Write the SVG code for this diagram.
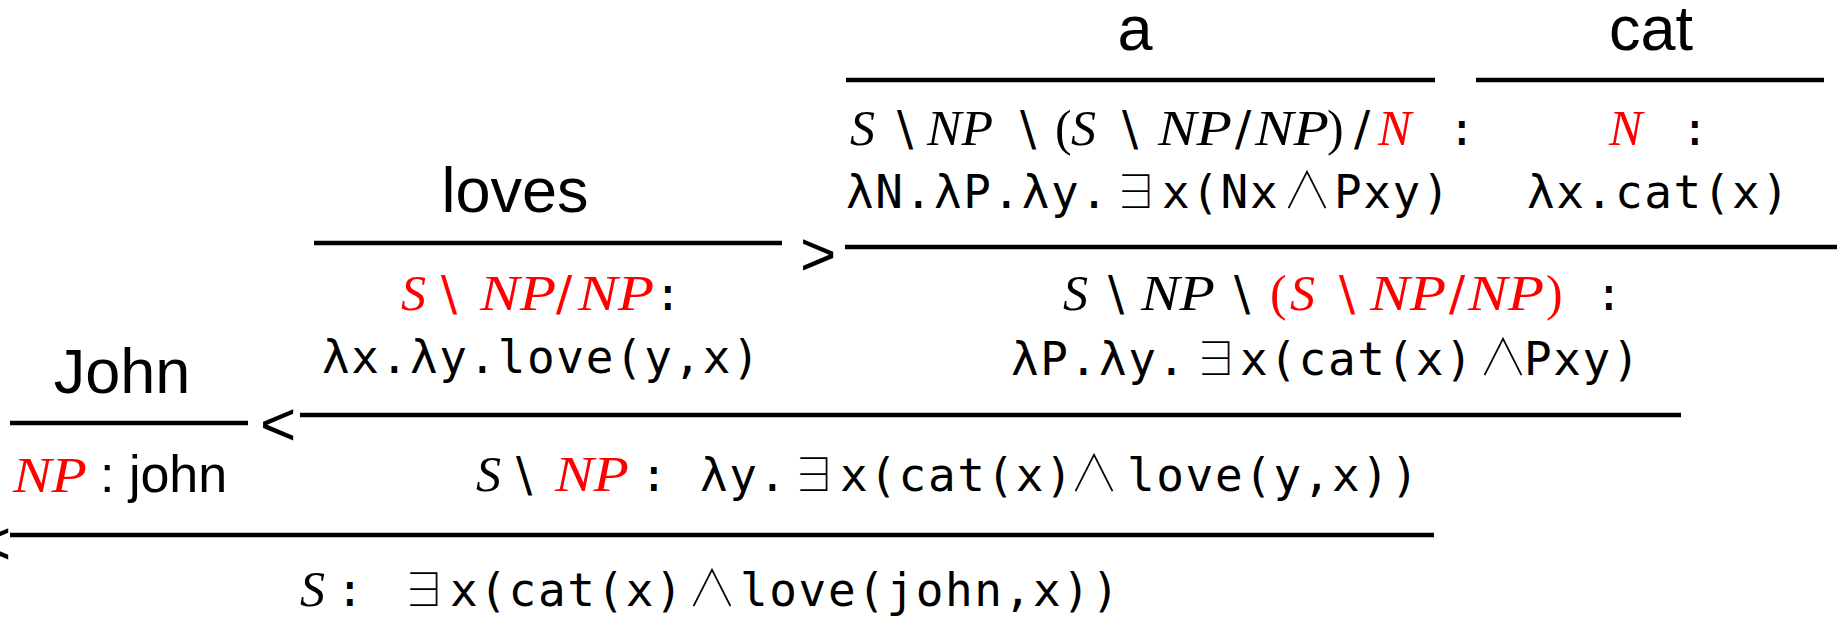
<svg xmlns="http://www.w3.org/2000/svg" width="1837" height="619" viewBox="0 0 1837 619">
<style>
.w{font-family:"Liberation Sans",Arial,sans-serif;font-size:63px;fill:#000}
.w2{font-family:"Liberation Sans",Arial,sans-serif;font-size:52px;fill:#000}
.m{font-family:"DejaVu Sans Mono",monospace;font-size:46px;letter-spacing:1.6px;fill:#000}
.i{font-family:"Liberation Serif",serif;font-style:italic;font-size:50px;fill:#000}
.b{font-family:"DejaVu Sans",sans-serif;font-size:48px;fill:#000}
.p{font-family:"Liberation Serif",serif;font-size:50px;fill:#000}
.q{font-family:"Noto Sans CJK JP","DejaVu Sans",sans-serif;font-weight:100;font-size:46px;letter-spacing:0;fill:#000}
.n{font-family:"Noto Sans CJK JP","DejaVu Sans",sans-serif;font-weight:100;font-size:50px;letter-spacing:0;fill:#000}
.r{fill:#ff0000}
.rule{stroke:#000;stroke-width:4.5}
.op{font-family:"Liberation Sans",Arial,sans-serif;font-size:62px;fill:#000}
</style>
<g id="node-a">
<text class="w" x="1135" y="50" text-anchor="middle">a</text>
<text class="i" x="850" y="145">S</text>
<text class="b" x="897" y="145">\</text>
<text class="i" x="927" y="145" textLength="66" lengthAdjust="spacingAndGlyphs">NP</text>
<text class="b" x="1020" y="145">\</text>
<text class="p" x="1055" y="145">(</text>
<text class="i" x="1071" y="145">S</text>
<text class="b" x="1122" y="145">\</text>
<text class="i" x="1158" y="145" textLength="74" lengthAdjust="spacingAndGlyphs">NP</text>
<text class="b" x="1235" y="145">/</text>
<text class="i" x="1255" y="145" textLength="74" lengthAdjust="spacingAndGlyphs">NP</text>
<text class="p" x="1327" y="145">)</text>
<text class="b" x="1354" y="145">/</text>
<text class="i r" x="1378" y="145">N</text>
<text class="m" x="1448" y="145">:</text>
<text class="m" y="208"><tspan x="846">λN.λP.λy.</tspan><tspan class="q" x="1113">∃</tspan><tspan x="1162">x(Nx</tspan><tspan class="n" x="1282">∧</tspan><tspan x="1334">Pxy)</tspan></text>
</g>
<g id="node-cat">
<text class="w" x="1651" y="50" text-anchor="middle">cat</text>
<text class="i r" x="1609" y="145">N</text>
<text class="m" x="1681" y="145">:</text>
<text class="m" x="1527" y="208">λx.cat(x)</text>
</g>
<g id="node-loves">
<text class="w" x="515" y="212" text-anchor="middle">loves</text>
<text class="i r" x="401" y="310">S</text>
<text class="b r" x="441" y="310">\</text>
<text class="i r" x="480" y="310" textLength="76" lengthAdjust="spacingAndGlyphs">NP</text>
<text class="b r" x="556" y="310">/</text>
<text class="i r" x="578" y="310" textLength="76" lengthAdjust="spacingAndGlyphs">NP</text>
<text class="m" x="654" y="310">:</text>
<text class="m" x="322" y="373">λx.λy.love(y,x)</text>
</g>
<g id="node-a-cat">
<text class="i" x="1063" y="310">S</text>
<text class="b" x="1108" y="310">\</text>
<text class="i" x="1141" y="310" textLength="74" lengthAdjust="spacingAndGlyphs">NP</text>
<text class="b" x="1234" y="310">\</text>
<text class="p r" x="1270" y="310">(</text>
<text class="i r" x="1290" y="310">S</text>
<text class="b r" x="1339" y="310">\</text>
<text class="i r" x="1370" y="310" textLength="76" lengthAdjust="spacingAndGlyphs">NP</text>
<text class="b r" x="1449" y="310">/</text>
<text class="i r" x="1468" y="310" textLength="76" lengthAdjust="spacingAndGlyphs">NP</text>
<text class="p r" x="1546" y="310">)</text>
<text class="m" x="1595" y="310">:</text>
<text class="m" y="375"><tspan x="1011">λP.λy.</tspan><tspan class="q" x="1193">∃</tspan><tspan x="1240">x(cat(x)</tspan><tspan class="n" x="1478">∧</tspan><tspan x="1524">Pxy)</tspan></text>
</g>
<g id="node-john">
<text class="w" x="122" y="393" text-anchor="middle">John</text>
<text class="i r" x="13" y="492" textLength="74" lengthAdjust="spacingAndGlyphs">NP</text>
<text class="w2" x="100" y="492">: john</text>
</g>
<g id="node-vp">
<text class="i" x="476" y="491">S</text>
<text class="b" x="516" y="491">\</text>
<text class="i r" x="555" y="491" textLength="74" lengthAdjust="spacingAndGlyphs">NP</text>
<text class="m" y="491"><tspan x="640">:</tspan><tspan x="700">λy.</tspan><tspan class="q" x="791">∃</tspan><tspan x="840">x(cat(x)</tspan><tspan class="n" x="1069">∧</tspan><tspan x="1127">love(y,x))</tspan></text>
</g>
<g id="node-s">
<text class="i" x="300" y="606">S</text>
<text class="m" y="606"><tspan x="336">:</tspan><tspan class="q" x="401">∃</tspan><tspan x="450">x(cat(x)</tspan><tspan class="n" x="687">∧</tspan><tspan x="740">love(john,x))</tspan></text>
</g>
<g id="connectors">
<line class="rule" x1="846" y1="80" x2="1435" y2="80"/>
<line class="rule" x1="1476" y1="80" x2="1824" y2="80"/>
<line class="rule" x1="314" y1="243" x2="782" y2="243"/>
<line class="rule" x1="845" y1="247" x2="1837" y2="247"/>
<line class="rule" x1="10" y1="423" x2="248" y2="423"/>
<line class="rule" x1="300" y1="415" x2="1681" y2="415"/>
<line class="rule" x1="10" y1="535" x2="1434" y2="535"/>
<text class="op" x="800" y="275">&gt;</text>
<text class="op" x="260" y="445">&lt;</text>
<text class="op" x="-25" y="564">&lt;</text>
</g>
</svg>
